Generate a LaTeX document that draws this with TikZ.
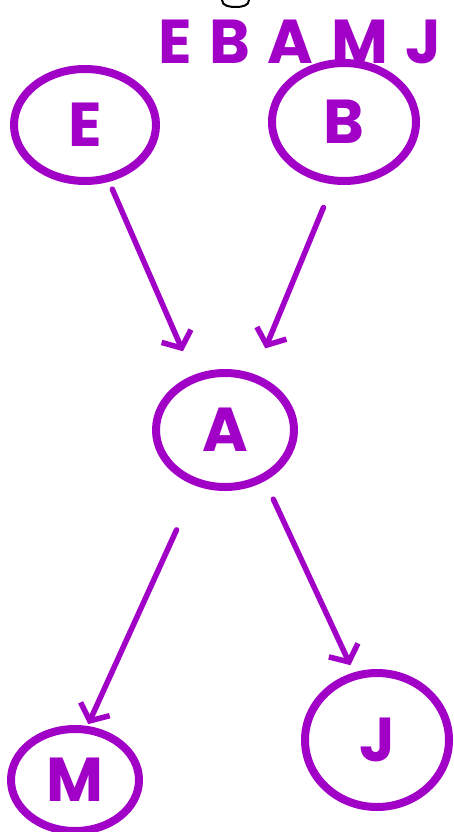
\documentclass[tikz,border=0pt]{standalone}
\usepackage{fontspec}
\setmainfont{Poppins}
\usetikzlibrary{shapes.geometric,arrows.meta}
\definecolor{pen}{RGB}{161,0,199}
\begin{document}
\begin{tikzpicture}[x=1pt,y=-1pt,
  var/.style={ellipse, draw=pen, line width=8pt, text=pen, inner sep=0pt,
    font=\fontsize{62}{62}\selectfont\bfseries},
  edge/.style={draw=pen, line width=5.5pt, line cap=round, line join=round,
    -{Straight Barb[length=13pt,width=32pt]}}]
\useasboundingbox (0,0) rectangle (453,832);
% cut-off black text at the top
\draw[black, line width=2pt, line cap=round] (222,0) to[out=-90,in=180] (236,7) to[out=0,in=-90] (249,0);
% title
\node[text=pen, font=\fontsize{62}{62}\selectfont\bfseries] (title) at (300,42)
  {\addfontfeature{LetterSpace=28}EBAMJ};
% variables
\node[var, minimum width=142pt, minimum height=112pt] (E) at (85,125) {E};
\node[var, minimum width=144pt, minimum height=118pt] (B) at (344,122) {B};
\node[var, minimum width=138pt, minimum height=114pt] (A) at (225,430) {A};
\node[var, minimum width=128pt, minimum height=102pt] (M) at (75,780) {M};
\node[var, minimum width=144pt, minimum height=134pt] (J) at (377,740) {J};
% edges
\draw[edge, shorten <=8pt, shorten >=26pt] (E.-67) -- (A.120);
\draw[edge, shorten <=25pt, shorten >=28pt] (B.-100) -- (A.62);
\draw[edge, shorten <=48pt, shorten >=2pt] (A.-117) -- (M.77);
\draw[edge, shorten <=20pt, shorten >=8pt] (A.-52) -- (J.109);
\end{tikzpicture}
\end{document}
